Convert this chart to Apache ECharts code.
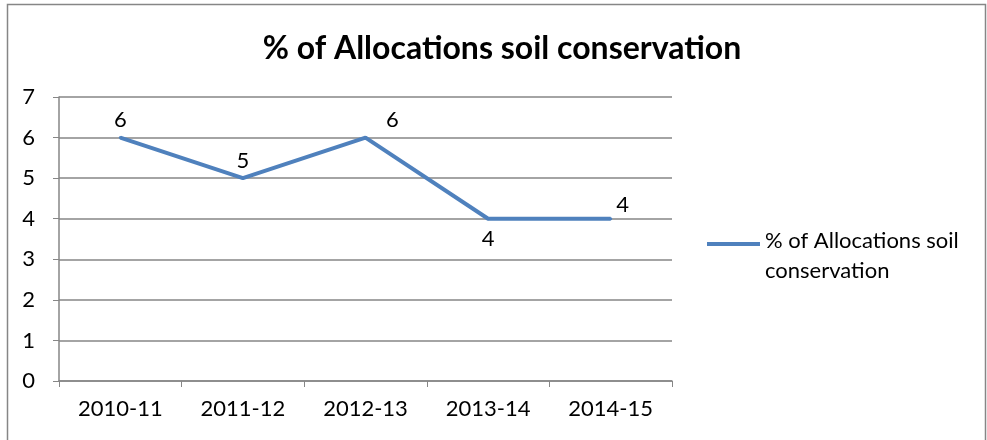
<!DOCTYPE html>
<html><head><meta charset="utf-8">
<script src="https://cdn.jsdelivr.net/npm/echarts@6/dist/echarts.min.js"></script>
<style>html,body{margin:0;padding:0;background:#fff}#c{width:987px;height:440px}</style>
</head><body><div id="c"></div>
<script>
const categories = ['2010-11','2011-12','2012-13','2013-14','2014-15'];
const values = [6,5,6,4,4];
const seriesName = '% of Allocations soil conservation';
const titleText = '% of Allocations soil conservation';
const yTicks = [0,1,2,3,4,5,6,7];

const font = 'Lato, "Open Sans", sans-serif';
const labelPos = [
  {position:'top', offset:[0,0]},
  {position:'top', offset:[0,0]},
  {position:'top', offset:[27,0]},
  {position:'bottom', offset:[0,3]},
  {position:'top', offset:[12,4]}
];
const chart = echarts.init(document.getElementById('c'));
chart.setOption({
  animation:false,
  backgroundColor:'#fff',
  title:{text:titleText,left:497,top:28,textAlign:'center',
    textStyle:{fontFamily:font,fontWeight:'bold',fontSize:32,color:'#000'}},
  grid:{left:59,top:97,width:613,height:284,containLabel:false},
  legend:{show:true,left:707,top:226,padding:0,itemWidth:53,itemHeight:60,
    icon:'path://M0,0h0.01v0.01h-0.01z M0,16h53v4h-53z M0,60h0.01v0.01h-0.01z',
    formatter:()=> '% of Allocations soil\nconservation',
    textStyle:{fontFamily:font,fontSize:22,color:'#000',lineHeight:30}},
  xAxis:{type:'category',data:categories,boundaryGap:true,
    axisLine:{lineStyle:{color:'#868686',width:1.5}},
    axisTick:{show:true,length:6,lineStyle:{color:'#868686'},alignWithLabel:false},
    axisLabel:{fontFamily:font,fontSize:22,color:'#000',margin:17}},
  yAxis:{type:'value',min:yTicks[0],max:yTicks[yTicks.length-1],interval:1,
    axisLine:{show:true,lineStyle:{color:'#868686',width:1.5}},
    axisTick:{show:true,length:6,lineStyle:{color:'#868686'}},
    splitLine:{lineStyle:{color:'#868686',width:1.5}},
    axisLabel:{fontFamily:font,fontSize:22,color:'#000',margin:24}},
  series:[{name:seriesName,type:'line',symbol:'circle',symbolSize:3,showSymbol:true,
    lineStyle:{color:'#4F81BD',width:4},itemStyle:{color:'#4F81BD'},
    data:values.map((v,i)=>({value:v,label:Object.assign({show:true},labelPos[i])})),
    label:{show:true,fontFamily:font,fontSize:22,color:'#000'}}],
  graphic:[{type:'rect',shape:{x:7.5,y:4.5,width:978,height:445},
    style:{fill:'none',stroke:'#868686',lineWidth:1.5},silent:true}]
});
</script></body></html>
